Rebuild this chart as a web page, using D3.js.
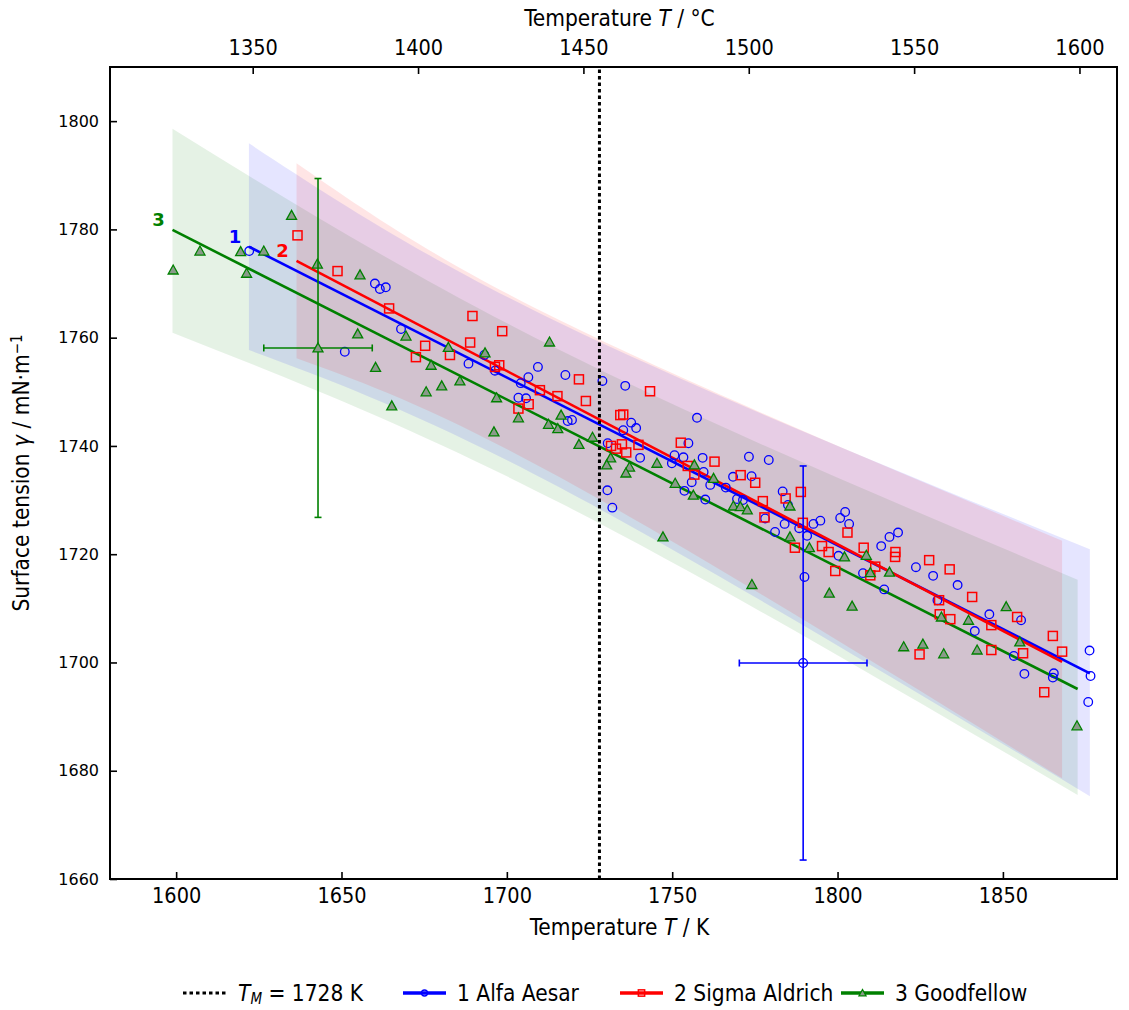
<!DOCTYPE html>
<html>
<head>
<meta charset="utf-8">
<script src="https://cdn.jsdelivr.net/npm/d3@7"></script>
<style>
body { margin: 0; background: #fff; }
text { font-family: "DejaVu Sans Condensed", "DejaVu Sans", sans-serif; font-stretch: condensed; }
</style>
</head>
<body>
<script>
// temperatures in K, surface tension in mN/m
var blueT = [1622.1,1651.0,1660.1,1661.6,1663.4,1668.0,1688.4,1693.2,1696.4,1704.2,
  1706.5,1709.4,1717.7,1703.5,1705.8,1718.4,1719.7,1728.9,1735.8,1737.6,
  1739.1,1735.2,1730.5,1757.5,1754.9,1750.7,1753.4,1759.2,1749.9,1759.5,
  1761.5,1755.9,1753.7,1760.0,1766.2,1768.4,1773.2,1779.2,1774.0,1769.6,
  1771.4,1730.4,1731.9,1740.3,1778.1,1781.1,1783.4,1784.0,1788.4,1790.8,
  1785.0,1792.7,1794.8,1800.8,1802.3,1803.5,1800.3,1807.7,1813.2,1815.7,
  1818.3,1823.7,1828.9,1814.1,1830.2,1790.0,1836.3,1845.9,1855.5,1841.5,
  1853.3,1856.5,1865.4,1865.1,1876.2,1876.5,1875.8];
var blueG = [1776.0,1757.4,1770.0,1769.0,1769.3,1761.6,1755.2,1756.8,1753.9,1751.6,
  1752.7,1754.6,1753.1,1748.9,1748.8,1744.6,1744.8,1752.0,1751.1,1744.3,
  1743.3,1742.9,1740.5,1745.2,1740.5,1738.3,1737.9,1737.8,1736.8,1735.2,
  1732.8,1733.3,1731.7,1730.1,1732.3,1734.3,1738.0,1737.4,1734.4,1730.2,
  1730.0,1731.8,1728.6,1737.8,1726.6,1724.1,1731.6,1725.6,1724.8,1723.4,
  1729.1,1725.6,1726.2,1726.7,1727.8,1725.6,1719.7,1716.5,1721.5,1723.2,
  1724.0,1717.6,1716.0,1713.5,1711.5,1715.8,1714.3,1708.9,1707.8,1705.8,
  1701.2,1697.9,1698.0,1697.2,1702.2,1697.5,1692.7];

var redT = [1636.7,1648.8,1664.4,1689.6,1698.6,1688.9,1675.3,1672.5,1682.8,1696.4,
  1697.7,1710.0,1715.3,1706.6,1703.5,1721.8,1723.9,1743.3,1734.3,1735.2,
  1731.5,1733.0,1734.8,1736.1,1739.8,1752.6,1754.7,1756.7,1762.8,1770.7,
  1775.1,1777.4,1777.9,1784.3,1788.9,1789.5,1787.1,1795.3,1797.3,1803.0,
  1799.3,1807.9,1811.4,1809.9,1817.5,1817.4,1827.7,1830.7,1830.9,1833.9,
  1840.7,1834.1,1846.5,1854.3,1846.5,1856.1,1865.1,1867.9,1824.8,1862.5];
var redG = [1778.9,1772.3,1765.4,1764.0,1761.2,1759.1,1758.5,1756.4,1756.8,1754.6,
  1754.9,1750.3,1749.2,1747.7,1746.9,1752.3,1748.3,1750.1,1745.7,1745.8,
  1740.0,1739.5,1740.3,1738.8,1740.2,1740.6,1736.3,1734.7,1737.1,1734.6,
  1733.2,1729.8,1726.8,1730.3,1731.5,1725.8,1721.2,1721.5,1720.4,1724.0,
  1716.9,1721.2,1717.7,1716.1,1720.4,1719.5,1718.9,1711.5,1708.9,1717.2,
  1712.1,1708.0,1706.9,1708.4,1702.3,1701.7,1704.9,1702.0,1701.5,1694.5];

var greenT = [1599.1,1607.2,1619.5,1626.5,1621.3,1634.9,1642.7,1654.9,1655.6,1660.3,
  1669.5,1682.3,1693.4,1677.1,1675.6,1680.3,1685.8,1665.2,1696.9,1696.1,
  1703.5,1712.9,1716.4,1712.6,1715.4,1721.8,1725.9,1731.4,1730.2,1737.1,
  1736.0,1745.4,1750.9,1756.7,1756.4,1762.5,1768.5,1770.6,1772.7,1785.6,
  1747.2,1785.6,1791.5,1802.1,1808.7,1809.9,1815.7,1774.1,1797.5,1804.4,
  1831.4,1839.6,1851.0,1855.1,1820.0,1825.8,1832.1,1842.2,1872.4];
var greenG = [1772.5,1776.0,1775.9,1776.0,1771.9,1782.6,1773.6,1760.7,1771.6,1754.5,
  1760.3,1758.2,1757.2,1754.9,1750.0,1751.1,1752.0,1747.4,1748.9,1742.6,
  1745.2,1759.2,1745.7,1744.0,1743.2,1740.3,1741.6,1737.8,1736.5,1736.1,
  1735.0,1736.8,1733.1,1736.5,1730.9,1734.0,1728.9,1728.8,1728.2,1728.9,
  1723.2,1723.2,1721.2,1719.5,1719.8,1716.6,1716.7,1714.4,1712.8,1710.4,
  1708.4,1707.8,1710.3,1703.8,1702.9,1703.4,1701.6,1702.3,1688.3];

// linear fits (end points)
var fitT1 = [1622.0, 1876.3], fitG1 = [1776.8, 1698.0];
var fitT2 = [1636.4, 1867.9], fitG2 = [1774.2, 1700.1];
var fitT3 = [1598.9, 1872.6], fitG3 = [1779.9, 1695.1];

// uncertainty bands
var bandT1 = [1622.0, 1716.0, 1876.3], bandHi1 = [1795.9, 1762.7, 1720.9], bandLo1 = [1757.7, 1732.3, 1675.3];
var bandT2 = [1636.4, 1716.0, 1867.9], bandHi2 = [1792.2, 1763.2, 1722.5], bandLo2 = [1756.2, 1734.2, 1678.6];
var bandT3 = [1598.9, 1716.0, 1872.6], bandHi3 = [1798.6, 1757.7, 1715.3], bandLo3 = [1760.9, 1729.5, 1675.5];

// representative error bars: green (3) and blue (1)
var errT = [1642.9, 1789.6], errG = [1758.1, 1699.9], errDT = [16.4, 19.3], errDG = [31.3, 36.4];

var meltT = 1728;
var xTicks = [1600, 1650, 1700, 1750, 1800, 1850];
var cTicks = [1350, 1400, 1450, 1500, 1550, 1600];
var yTicks = [1660, 1680, 1700, 1720, 1740, 1760, 1780, 1800];
var seriesNames = ["1 Alfa Aesar", "2 Sigma Aldrich", "3 Goodfellow"];
var seriesLabels = ["1", "2", "3"];

var W = 1129, H = 1010;
var margin = {left: 110, top: 67, right: 12, bottom: 131};

var xScale = d3.scaleLinear().domain([1580, 1884.5]).range([margin.left, W - margin.right]);
var cScale = d3.scaleLinear().domain([1580 - 273.15, 1884.5 - 273.15]).range([margin.left, W - margin.right]);
var yScale = d3.scaleLinear().domain([1660, 1810]).range([H - margin.bottom, margin.top]);

var svg = d3.select("body").append("svg").attr("width", W).attr("height", H);

var colors = ["#0000ff", "#ff0000", "#008000"];
var bandFill = ["rgba(0,0,255,0.1)", "rgba(255,0,0,0.1)", "rgba(0,128,0,0.1)"];

function zip(a, b) { return a.map(function(v, i) { return [v, b[i]]; }); }

var series = [
  {pts: zip(blueT, blueG), fit: zip(fitT1, fitG1), band: bandT1.map(function(t, i){return [t, bandLo1[i], bandHi1[i]];})},
  {pts: zip(redT, redG), fit: zip(fitT2, fitG2), band: bandT2.map(function(t, i){return [t, bandLo2[i], bandHi2[i]];})},
  {pts: zip(greenT, greenG), fit: zip(fitT3, fitG3), band: bandT3.map(function(t, i){return [t, bandLo3[i], bandHi3[i]];})}
];

var plot = svg.append("g");

// bands
var area = d3.area()
    .x(function(d){ return xScale(d[0]); })
    .y0(function(d){ return yScale(d[1]); })
    .y1(function(d){ return yScale(d[2]); })
    .curve(d3.curveNatural);
[2, 0, 1].forEach(function(k) {
  plot.append("path").attr("d", area(series[k].band)).attr("fill", bandFill[k]);
});

// markers
function marker(g, k, s) {
  s = s || 1;
  if (k === 0) {
    g.append("circle").attr("r", 4.3 * s).attr("fill", "none")
      .attr("stroke", colors[0]).attr("stroke-width", 1.3);
  } else if (k === 1) {
    g.append("rect").attr("x", -4.5 * s).attr("y", -4.5 * s).attr("width", 9 * s).attr("height", 9 * s)
      .attr("fill", "none").attr("stroke", colors[1]).attr("stroke-width", 1.5);
  } else {
    g.append("path").attr("d", "M0," + (-5 * s) + "L" + (5 * s) + "," + (4 * s) + "L" + (-5 * s) + "," + (4 * s) + "Z")
      .attr("fill", "#8a9a8a").attr("stroke", colors[2]).attr("stroke-width", 1.3);
  }
}

var line = d3.line().x(function(d){ return xScale(d[0]); }).y(function(d){ return yScale(d[1]); });

// fit lines
series.forEach(function(s, k) {
  plot.append("path").attr("d", line(s.fit)).attr("fill", "none")
    .attr("stroke", colors[k]).attr("stroke-width", 2.6);
  plot.append("text")
    .attr("x", xScale(s.fit[0][0]) - 14).attr("y", yScale(s.fit[0][1]) - 10)
    .attr("text-anchor", "middle").attr("dy", "0.35em")
    .style("font-family", "DejaVu Sans").style("font-stretch", "normal")
    .style("font-weight", "bold").style("font-size", "18px")
    .attr("fill", colors[k]).text(seriesLabels[k]);
});

// points
[0, 1, 2].forEach(function(k) {
  plot.append("g").selectAll("g").data(series[k].pts).enter().append("g")
    .attr("transform", function(d){ return "translate(" + xScale(d[0]) + "," + yScale(d[1]) + ")"; })
    .each(function(){ marker(d3.select(this), k); });
});

// error bars
var errSeries = [2, 0];
errT.forEach(function(t, i) {
  var k = errSeries[i], c = colors[k];
  var g = plot.append("g").attr("stroke", c).attr("stroke-width", 1.6);
  var cx = xScale(t), cy = yScale(errG[i]);
  var x0 = xScale(t - errDT[i]), x1 = xScale(t + errDT[i]);
  var y0 = yScale(errG[i] - errDG[i]), y1 = yScale(errG[i] + errDG[i]);
  g.append("line").attr("x1", cx).attr("x2", cx).attr("y1", y0).attr("y2", y1);
  g.append("line").attr("x1", x0).attr("x2", x1).attr("y1", cy).attr("y2", cy);
  [y0, y1].forEach(function(yy){ g.append("line").attr("x1", cx - 3.5).attr("x2", cx + 3.5).attr("y1", yy).attr("y2", yy); });
  [x0, x1].forEach(function(xx){ g.append("line").attr("x1", xx).attr("x2", xx).attr("y1", cy - 3.5).attr("y2", cy + 3.5); });
  var m = plot.append("g").attr("transform", "translate(" + cx + "," + cy + ")");
  marker(m, k);
});

// melting point
plot.append("line")
  .attr("x1", xScale(meltT)).attr("x2", xScale(meltT))
  .attr("y1", yScale(1660)).attr("y2", yScale(1810))
  .attr("stroke", "#000").attr("stroke-width", 3).attr("stroke-dasharray", "3.5,3");

// axes
var xAxis = d3.axisBottom(xScale).tickValues(xTicks).tickSize(-7).tickPadding(9).tickFormat(d3.format("d"));
var cAxis = d3.axisTop(cScale).tickValues(cTicks).tickSize(-7).tickPadding(12).tickFormat(d3.format("d"));
var yAxis = d3.axisLeft(yScale).tickValues(yTicks).tickSize(-7).tickPadding(11).tickFormat(d3.format("d"));

var gx = svg.append("g").attr("transform", "translate(0," + yScale(1660) + ")").call(xAxis);
var gc = svg.append("g").attr("transform", "translate(0," + yScale(1810) + ")").call(cAxis);
var gy = svg.append("g").attr("transform", "translate(" + margin.left + ",0)").call(yAxis);
[gx, gc, gy].forEach(function(g) {
  g.select(".domain").remove();
  g.selectAll(".tick line").attr("stroke", "#000").attr("stroke-width", 1.6);
  g.selectAll(".tick text").attr("fill", "#000").style("font-size", "21.5px");
});
gy.selectAll(".tick text").style("font-family", "DejaVu Sans").style("font-stretch", "normal").style("font-size", "16px");

svg.append("rect")
  .attr("x", margin.left).attr("y", margin.top)
  .attr("width", W - margin.left - margin.right).attr("height", H - margin.top - margin.bottom)
  .attr("fill", "none").attr("stroke", "#000").attr("stroke-width", 2);

// titles
var cx0 = (margin.left + W - margin.right) / 2 + 6;
var tb = svg.append("text").attr("x", cx0).attr("y", 935).attr("text-anchor", "middle").style("font-size", "22.5px");
tb.append("tspan").text("Temperature ");
tb.append("tspan").style("font-style", "italic").text("T");
tb.append("tspan").text(" / K");

var tt = svg.append("text").attr("x", cx0).attr("y", 26).attr("text-anchor", "middle").style("font-size", "22.5px");
tt.append("tspan").text("Temperature ");
tt.append("tspan").style("font-style", "italic").text("T");
tt.append("tspan").text(" / °C");

var ty = svg.append("text").attr("transform", "translate(29," + ((margin.top + H - margin.bottom) / 2) + ") rotate(-90)")
  .attr("text-anchor", "middle").style("font-size", "22.5px");
ty.append("tspan").text("Surface tension ");
ty.append("tspan").style("font-style", "italic").text("γ");
ty.append("tspan").text(" / mN·m");
ty.append("tspan").attr("dy", "-0.45em").style("font-size", "15px").text("−1");

// legend
var legY = 993;
var leg = svg.append("g");
leg.append("line").attr("x1", 183).attr("x2", 228).attr("y1", legY).attr("y2", legY)
  .attr("stroke", "#000").attr("stroke-width", 3).attr("stroke-dasharray", "3.5,3");
var lt = leg.append("text").attr("x", 238).attr("y", legY).attr("dy", "0.35em").style("font-size", "22.5px");
lt.append("tspan").style("font-style", "italic").text("T");
lt.append("tspan").style("font-style", "italic").style("font-size", "15px").attr("dy", "0.22em").text("M");
lt.append("tspan").attr("dy", "-0.15em").text(" = 1728 K");

var legX = [403, 620, 841];
seriesNames.forEach(function(name, k) {
  var x0 = legX[k];
  leg.append("line").attr("x1", x0).attr("x2", x0 + 43).attr("y1", legY).attr("y2", legY)
    .attr("stroke", colors[k]).attr("stroke-width", 3.5);
  var m = leg.append("g").attr("transform", "translate(" + (x0 + 21.5) + "," + legY + ")");
  marker(m, k, 0.7);
  leg.append("text").attr("x", x0 + 54).attr("y", legY).attr("dy", "0.35em").style("font-size", "22.5px").text(name);
});
</script>
</body>
</html>
